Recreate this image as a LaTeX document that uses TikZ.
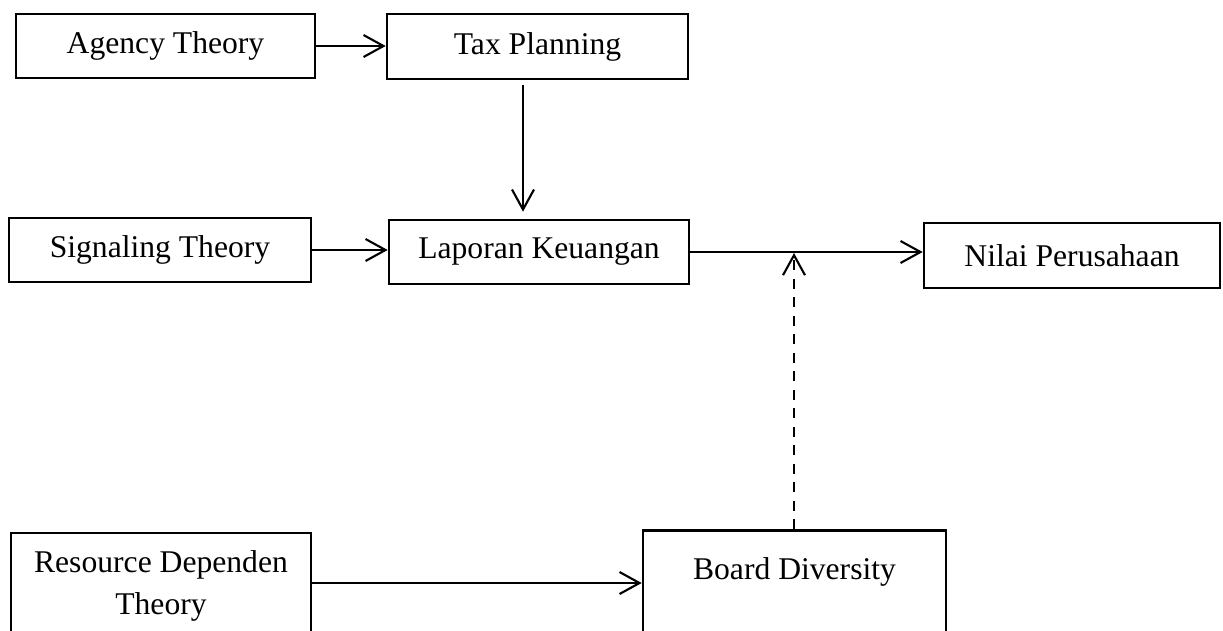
\documentclass[tikz,border=0pt]{standalone}
\usepackage{fontspec}
\setmainfont{Liberation Serif}
\usetikzlibrary{arrows.meta,positioning}

\begin{document}
\begin{tikzpicture}[x=0.02cm,y=-0.02cm,
  box/.style={draw, line width=1.5pt, minimum width=6cm, minimum height=1.28cm, inner sep=0pt, font=\fontsize{18}{24}\selectfont, align=center},
  arr/.style={line width=1.2pt, -{Straight Barb[length=0.4cm,width=0.44cm]}}]
\useasboundingbox (0,0) rectangle (1223,630);
\clip (0,0) rectangle (1223,630);

% Theory boxes on the left
\node[box, minimum width=5.98cm] (agency) at (165.5,46) {Agency Theory};
\node[box, minimum width=6.04cm] (signal) at (160,250) {Signaling Theory};
\node[box, minimum height=2.12cm] (resource) at (161,586) {Resource Dependen\\Theory};

% Variables
\node[box, minimum width=6.02cm, minimum height=1.3cm] (tax) at (537.5,46.5) {Tax Planning};
\node[box] (lapkeu) at (539,252) {Laporan Keuangan};
\node[box, minimum width=5.92cm, minimum height=1.3cm] (nilai) at (1072,255.5) {Nilai Perusahaan};
\node[box, anchor=north, minimum width=6.06cm, text height=0.5cm, text depth=3cm, inner ysep=0.48cm] (board) at (794.5,529) {Board Diversity};

% Arrows
\coordinate (tp) at (523,0);
\coordinate (mod) at (794,253);
\coordinate (rd) at (0,583);
\draw[arr] (agency.east) -- (agency.east -| tax.west);
\draw[arr] ([yshift=-0.1cm]tp |- tax.south) -- ([yshift=0.14cm]tp |- lapkeu.north);
\draw[arr] (signal.east) -- (signal.east -| lapkeu.west);
\draw[arr] (lapkeu.east) -- (lapkeu.east -| nilai.west);
\draw[arr, dash pattern=on 0.2cm off 0.17cm] (mod |- board.north) -- (mod);
\draw[arr] (resource.east |- rd) -- (board.west |- rd);

\end{tikzpicture}
\end{document}
